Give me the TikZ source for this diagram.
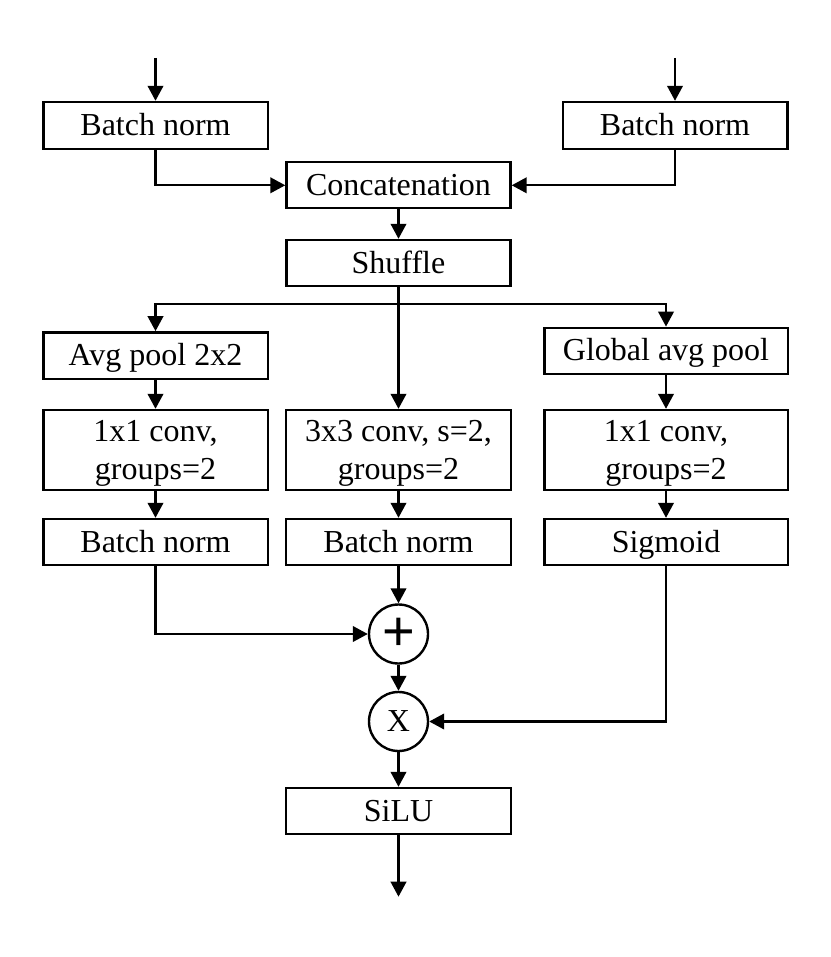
\documentclass[tikz,border=0pt]{standalone}
\usepackage{fontspec}
\setmainfont{Liberation Serif}
\newfontfamily\plusfont{Liberation Sans}
\usetikzlibrary{arrows.meta}
\newcommand{\upstrut}{\rule{0pt}{28pt}}
\begin{document}
\begin{tikzpicture}[x=1pt,y=-1pt,
  line width=2.4pt,
  font=\fontsize{32}{38}\selectfont,
  blk/.style={draw, rectangle, inner sep=0pt, text height=22pt, text depth=2pt, minimum height=46pt},
  blk2/.style={draw, rectangle, inner sep=0pt, align=center, minimum height=80pt},
  opc/.style={draw, circle, inner sep=0pt, minimum size=59pt},
  arr/.style={-{Triangle[length=15pt,width=15.5pt]}}
]
\useasboundingbox (0,0) rectangle (830,957);

% top row
\node[blk, minimum width=224.4pt, minimum height=47pt] (bn1) at (155.5,125.5) {Batch norm};
\node[blk, minimum width=224.6pt, minimum height=47pt] (bn2) at (675,125.5) {Batch norm};
\coordinate (inL) at (155.5,58);
\coordinate (inR) at (675,58);

\node[blk, minimum width=224pt] (concat) at (398.5,185.3) {Concatenation};
\node[blk, minimum width=224pt] (shuffle) at (398.5,263) {Shuffle};
\coordinate (br) at (398.5,304);

% branches
\node[blk, minimum width=224.4pt, minimum height=46.7pt] (avg) at (155.5,355.7) {Avg pool 2x2};
\node[blk, minimum width=243.4pt] (gap) at (666,350.8) {Global avg pool};

\node[blk2, minimum width=224.4pt] (convL) at (155.5,450) {\upstrut 1x1 conv,\\groups=2};
\node[blk2, minimum width=225pt] (convC) at (398.5,450) {\upstrut 3x3 conv, s=2,\\groups=2};
\node[blk2, minimum width=243.4pt] (convR) at (666,450) {\upstrut 1x1 conv,\\groups=2};

\node[blk, minimum width=224.4pt] (bnL) at (155.5,542) {Batch norm};
\node[blk, minimum width=225pt] (bnC) at (398.5,542) {Batch norm};
\node[blk, minimum width=243.4pt] (sig) at (666,542) {Sigmoid};

\node[opc] (plus) at (398.5,634) {\plusfont\fontsize{56}{56}\selectfont +};
\node[opc] (times) at (398.5,721.5) {X};

\node[blk, minimum width=224.6pt] (silu) at (398.5,811) {SiLU};
\coordinate (out) at (398.5,896.7);

% connectors
\draw[arr] (inL) -- (bn1);
\draw[arr] (inR) -- (bn2);
\draw[arr] (bn1.south) |- (concat.west);
\draw[arr] (bn2.south) |- (concat.east);
\draw[arr] (concat) -- (shuffle);
\draw[arr] (shuffle.south) -- (convC.north);
\draw[arr] (br) -| (avg.north);
\draw[arr] (br) -| (gap.north);
\draw[arr] (avg) -- (convL);
\draw[arr] (gap) -- (convR);
\draw[arr] (convL) -- (bnL);
\draw[arr] (convC) -- (bnC);
\draw[arr] (convR) -- (sig);
\draw[arr] (bnL.south) |- (plus.west);
\draw[arr] (bnC) -- (plus);
\draw[arr] (plus) -- (times);
\draw[arr] (sig.south) |- (times.east);
\draw[arr] (times) -- (silu);
\draw[arr] (silu) -- (out);
\end{tikzpicture}
\end{document}
